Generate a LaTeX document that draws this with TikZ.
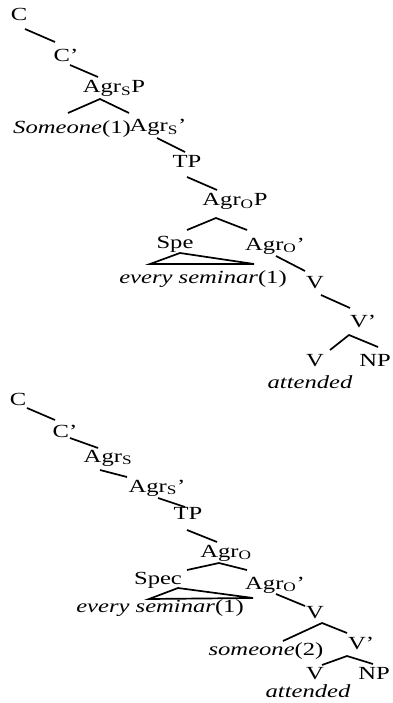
\documentclass[tikz,border=0pt]{standalone}
\usepackage{fontspec}
\setmainfont{Liberation Serif}

\begin{document}
\begin{tikzpicture}[x=1pt, y=-1pt,
  lbl/.style={anchor=base, inner sep=0pt, font=\fontsize{18.5}{20}\selectfont, xscale=1.33},
  branch/.style={line width=1.7pt},
]
\useasboundingbox (0,0) rectangle (392,703);

% upper tree
\node[lbl] (c1) at (19,21) {C};
\node[lbl] (cb1) at (66,62) {C'};
\node[lbl] (agrsp1) at (114,93) {Agr\textsubscript{S}P};
\node[lbl] (some1) at (72,134) {\textit{Someone}(1)};
\node[lbl] (agrsb1) at (158,132) {Agr\textsubscript{S}'};
\node[lbl] (tp1) at (187,168) {TP};
\node[lbl] (agrop1) at (235,206) {Agr\textsubscript{O}P};
\node[lbl] (spec1) at (175,248) {Spe};
\node[lbl] (agrob1) at (275,250) {Agr\textsubscript{O}'};
\node[lbl] (every1) at (203,283) {\textit{every seminar}(1)};
\node[lbl] (v1) at (315,288) {V};
\node[lbl] (vb1) at (363,327) {V'};
\node[lbl] (vv1) at (315,366) {V};
\node[lbl] (np1) at (375,366) {NP};
\node[lbl] (att1) at (310,388) {\textit{attended}};

\draw[branch] ([shift={(6,8)}]c1.base) -- ([shift={(-11,-20)}]cb1.base);
\draw[branch] ([shift={(4,3)}]cb1.base) -- ([shift={(-16,-16)}]agrsp1.base);
\draw[branch] ([shift={(-4,-21)}]some1.base) -- ([shift={(-14,6)}]agrsp1.base) -- ([shift={(-29,-19)}]agrsb1.base);
\draw[branch] ([shift={(-1,6)}]agrsb1.base) -- ([shift={(-2,-16)}]tp1.base);
\draw[branch] ([shift={(0,9)}]tp1.base) -- ([shift={(-18,-16)}]agrop1.base);
\draw[branch] ([shift={(12,-18)}]spec1.base) -- ([shift={(-19,12)}]agrop1.base) -- ([shift={(-28,-20)}]agrob1.base);
\draw[branch] ([shift={(5,5)}]spec1.base) -- ([shift={(-53,-19)}]every1.base) -- ([shift={(51,-19)}]every1.base) -- cycle;
\draw[branch] ([shift={(1,6)}]agrob1.base) -- ([shift={(-10,-17)}]v1.base);
\draw[branch] ([shift={(6,7)}]v1.base) -- ([shift={(-13,-19)}]vb1.base);
\draw[branch] ([shift={(15,-16)}]vv1.base) -- ([shift={(-14,8)}]vb1.base) -- ([shift={(3,-19)}]np1.base);

% lower tree
\node[lbl] (c2) at (18,405) {C};
\node[lbl] (cb2) at (65,437) {C'};
\node[lbl] (agrs2) at (108,462) {Agr\textsubscript{S}};
\node[lbl] (agrsb2) at (157,492) {Agr\textsubscript{S}'};
\node[lbl] (tp2) at (188,519) {TP};
\node[lbl] (agro2) at (226,557) {Agr\textsubscript{O}};
\node[lbl] (spec2) at (158,584) {Spec};
\node[lbl] (agrob2) at (275,589) {Agr\textsubscript{O}'};
\node[lbl] (every2) at (160,612) {\textit{every seminar}(1)};
\node[lbl] (v2) at (315,618) {V};
\node[lbl] (some2) at (266,655) {\textit{someone}(2)};
\node[lbl] (vb2) at (361,649) {V'};
\node[lbl] (vv2) at (315,679) {V};
\node[lbl] (np2) at (374,679) {NP};
\node[lbl] (att2) at (308,697) {\textit{attended}};

\draw[branch] ([shift={(9,3)}]c2.base) -- ([shift={(-10,-17)}]cb2.base);
\draw[branch] ([shift={(5,1)}]cb2.base) -- ([shift={(-10,-14)}]agrs2.base);
\draw[branch] ([shift={(-8,8)}]agrs2.base) -- ([shift={(-30,-15)}]agrsb2.base);
\draw[branch] ([shift={(1,6)}]agrsb2.base) -- ([shift={(-3,-12)}]tp2.base);
\draw[branch] ([shift={(-1,11)}]tp2.base) -- ([shift={(-9,-15)}]agro2.base);
\draw[branch] ([shift={(29,-14)}]spec2.base) -- ([shift={(-7,6)}]agro2.base) -- ([shift={(-28,-19)}]agrob2.base);
\draw[branch] ([shift={(20,4)}]spec2.base) -- ([shift={(-11,-13)}]every2.base) -- ([shift={(93,-14)}]every2.base) -- cycle;
\draw[branch] ([shift={(1,5)}]agrob2.base) -- ([shift={(-10,-12)}]v2.base);
\draw[branch] ([shift={(17,-14)}]some2.base) -- ([shift={(7,5)}]v2.base) -- ([shift={(-14,-16)}]vb2.base);
\draw[branch] ([shift={(7,-14)}]vv2.base) -- ([shift={(-14,7)}]vb2.base) -- ([shift={(-1,-15)}]np2.base);

\end{tikzpicture}
\end{document}
